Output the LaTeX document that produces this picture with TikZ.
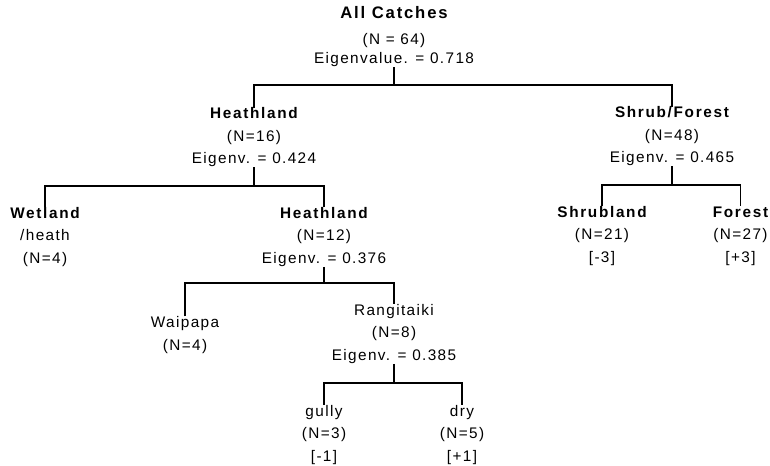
\documentclass[tikz,border=0pt]{standalone}
\usepackage{fontspec}
\setmainfont{Liberation Sans}[LetterSpace=9]
\newfontfamily\grpfont{Liberation Sans}[LetterSpace=11]
\newcommand{\grpname}[1]{{\grpfont\bfseries #1}}
\tikzset{
  lbl/.style={align=center, inner sep=0pt, font=\fontsize{11.5}{16.9}\selectfont},
  branch/.style={line width=0.8pt}
}

\begin{document}
\begin{tikzpicture}[x=0.75pt,y=-0.75pt]
\useasboundingbox (0,0) rectangle (770,466);
% groups
\node[lbl] (root) at (394,37) {{\fontsize{12.5}{16.9}\selectfont\grpname{All Catches}}\\[2pt] (N = 64)\\[-2pt] Eigenvalue. = 0.718};
\node[lbl] (heathA) at (254,137.5) {\grpname{Heathland}\\ (N=16)\\ Eigenv. = 0.424};
\node[lbl] (shrubfor) at (672,136.5) {\grpname{Shrub/Forest}\\ (N=48)\\ Eigenv. = 0.465};
\node[lbl] (wetland) at (45,237) {\grpname{Wetland}\\ /heath\\ (N=4)};
\node[lbl] (heathB) at (324,237) {\grpname{Heathland}\\ (N=12)\\ Eigenv. = 0.376};
\node[lbl] (shrubland) at (602,236) {\grpname{Shrubland}\\ (N=21)\\ {[-3]}};
\node[lbl] (forest) at (740.5,236) {\grpname{Forest}\\ (N=27)\\ {[+3]}};
\node[lbl] (waipapa) at (185,335) {Waipapa\\ (N=4)};
\node[lbl] (rangi) at (394,334) {Rangitaiki\\ (N=8)\\ Eigenv. = 0.385};
\node[lbl] (gully) at (324,435) {gully\\ (N=3)\\ {[-1]}};
\node[lbl] (dry) at (462,435) {dry\\ (N=5)\\ {[+1]}};
% splits
\coordinate (s0) at (394,85);
\coordinate (sA) at (254,186);
\coordinate (sS) at (672,185);
\coordinate (sB) at (324,283);
\coordinate (sR) at (394,383);
\draw[branch] (root.south) -- (s0);
\draw[branch] (heathA.north) |- (s0) -| (shrubfor.north);
\draw[branch] (heathA.south) -- (sA);
\draw[branch] (wetland.north) |- (sA) -| (heathB.north);
\draw[branch] (shrubfor.south) -- (sS);
\draw[branch] (shrubland.north) |- (sS) -| (forest.north);
\draw[branch] (heathB.south) -- (sB);
\draw[branch] (waipapa.north) |- (sB) -| (rangi.north);
\draw[branch] (rangi.south) -- (sR);
\draw[branch] (gully.north) |- (sR) -| (dry.north);
\end{tikzpicture}
\end{document}
